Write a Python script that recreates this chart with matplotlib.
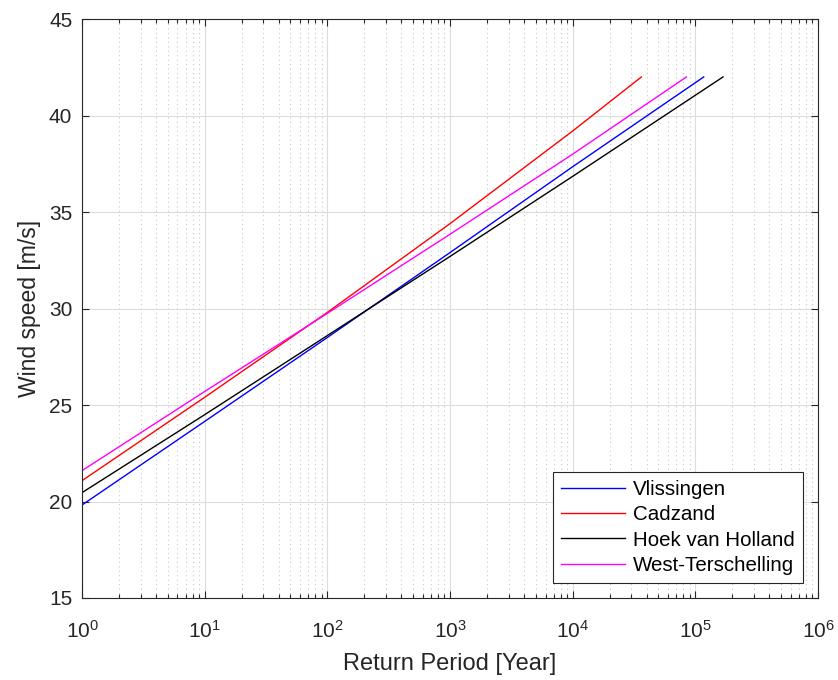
import matplotlib
matplotlib.use("Agg")
import matplotlib.pyplot as plt
from matplotlib.ticker import FixedLocator, NullFormatter, LogFormatterSciNotation

# Data
stations = ["Vlissingen", "Cadzand", "Hoek van Holland", "West-Terschelling"]
colors = ["#0000ff", "#ff0000", "#000000", "#ff00ff"]
return_periods = {
    "Vlissingen": [1, 10, 100, 1000, 10000, 117000],
    "Cadzand": [1, 10, 100, 1000, 10000, 36300],
    "Hoek van Holland": [1, 10, 100, 1000, 10000, 168000],
    "West-Terschelling": [1, 10, 100, 1000, 10000, 84500],
}
wind_speeds = {
    "Vlissingen": [19.82, 24.15, 28.5, 32.9, 37.35, 42.0],
    "Cadzand": [21.08, 25.4, 29.8, 34.4, 39.2, 42.0],
    "Hoek van Holland": [20.46, 24.5, 28.6, 32.7, 36.85, 42.0],
    "West-Terschelling": [21.6, 25.7, 29.75, 33.85, 38.0, 42.0],
}
x_ticks = [1, 10, 100, 1000, 10000, 100000, 1000000]
y_ticks = [15, 20, 25, 30, 35, 40, 45]

plt.rcParams['font.family'] = ['Liberation Sans', 'DejaVu Sans']
plt.rcParams['mathtext.fontset'] = 'custom'
plt.rcParams['mathtext.rm'] = 'Liberation Sans'
plt.rcParams['mathtext.it'] = 'Liberation Sans:italic'
plt.rcParams['mathtext.bf'] = 'Liberation Sans:bold'

fig = plt.figure(figsize=(8.38, 6.8), dpi=100)
ax = fig.add_axes([0.0979, 0.1206, 0.8783, 0.8514])

for s, c in zip(stations, colors):
    ax.plot(return_periods[s], wind_speeds[s], color=c, lw=1.0, label=s)

ax.set_xscale('log')
ax.set_xlim(1, 1e6)
ax.set_ylim(15, 45)
ax.set_yticks(y_ticks)
ax.xaxis.set_major_locator(FixedLocator(x_ticks))
ax.xaxis.set_major_formatter(LogFormatterSciNotation(base=10))
minor = [m * t for t in x_ticks[:-1] for m in range(2, 10)]
ax.xaxis.set_minor_locator(FixedLocator(minor))
ax.xaxis.set_minor_formatter(NullFormatter())

ax.grid(which='major', color='#dcdcdc', lw=0.8, ls='-')
ax.grid(which='minor', axis='x', color='#c8c8c8', lw=0.8, ls=(0, (1, 3)))
ax.set_axisbelow(True)

ax.tick_params(which='both', direction='in', top=True, right=True, colors='#262626',
               labelsize=15, width=0.8)
ax.tick_params(which='major', length=5)
ax.tick_params(which='minor', length=3)
ax.tick_params(axis='x', which='major', pad=16)
ax.tick_params(axis='y', which='major', pad=7)
for sp in ax.spines.values():
    sp.set_color('#262626')
    sp.set_linewidth(0.8)

ax.set_xlabel('Return Period [Year]', fontsize=17, color='#262626', labelpad=8)
ax.set_ylabel('Wind speed [m/s]', fontsize=16.5, color='#262626', labelpad=6)

leg = ax.legend(loc='lower right', fontsize=14.8, frameon=True, fancybox=False,
                edgecolor='#262626', framealpha=1, borderaxespad=0.75,
                handlelength=3.1, handletextpad=0.4, labelspacing=0.3, borderpad=0.38)
leg.get_frame().set_linewidth(0.8)

fig.savefig('out.png', dpi=100)
